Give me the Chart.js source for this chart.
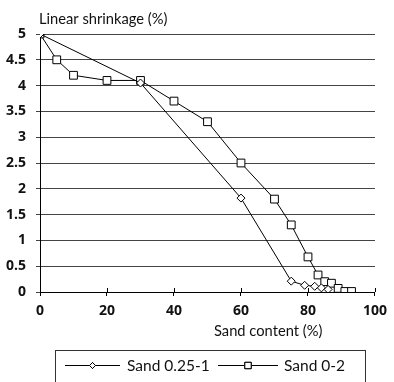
<!DOCTYPE html>
<html>
<head>
<meta charset="utf-8">
<script src="https://cdn.jsdelivr.net/npm/chart.js@4/dist/chart.umd.min.js"></script>
<style>
  html, body { margin: 0; padding: 0; background: #fff; }
  #wrap { width: 394px; height: 382px; }
</style>
</head>
<body>
<div id="wrap"><canvas id="grafico"></canvas></div>
<script>
const TEXT_FONT = "Lato, 'Noto Sans', sans-serif";
const TICK_FONT = "'Open Sans', 'Noto Sans', sans-serif";

// Sand 0.25-1
const fineX = [0, 30, 60, 75, 79, 82, 84, 86];
const fineY = [5, 4.05, 1.82, 0.21, 0.13, 0.11, 0.08, 0.05];

// Sand 0-2
const coarseX = [0, 5, 10, 20, 30, 40, 50, 60, 70, 75, 80, 83, 85, 87, 89, 91, 93];
const coarseY = [5, 4.5, 4.2, 4.1, 4.1, 3.7, 3.3, 2.5, 1.8, 1.3, 0.68, 0.33, 0.2, 0.17, 0.07, 0.01, 0.01];

const seriesLabels = ["Sand 0.25-1", "Sand 0-2"];
const xTicks = [0, 20, 40, 60, 80, 100];
const yTitle = "Linear shrinkage (%)";
const xTitle = "Sand content (%)";

function toPoints(xs, ys) {
  return xs.map((x, i) => ({ x, y: ys[i] }));
}

// titles, crossing ticks on the x axis and the boxed legend
const extras = {
  id: "extras",
  afterDraw(chart) {
    const { ctx, chartArea, scales } = chart;
    const xs = scales.x;
    const y0 = scales.y.getPixelForValue(0);

    ctx.save();
    ctx.strokeStyle = "#000";
    ctx.lineWidth = 1;
    xTicks.forEach((v) => {
      const px = Math.round(xs.getPixelForValue(v)) + 0.5;
      ctx.beginPath();
      ctx.moveTo(px, y0 - 4);
      ctx.lineTo(px, y0);
      ctx.stroke();
    });

    ctx.fillStyle = "#111";
    ctx.font = "14.7px " + TEXT_FONT;
    ctx.textAlign = "left";
    ctx.textBaseline = "alphabetic";
    ctx.fillText(yTitle, chartArea.left - 1, 24);
    ctx.fillText(xTitle, 214, 336);

    // legend box
    ctx.strokeStyle = "#333";
    ctx.strokeRect(55.5, 350.5, 310, 40);

    const cy = 365.5;
    const items = [
      { x1: 65, x2: 120, tx: 127, style: "rectRot", r: 3 },
      { x1: 218, x2: 278, tx: 284, style: "rect", r: 4.5 }
    ];
    items.forEach((it, i) => {
      ctx.strokeStyle = "#000";
      ctx.beginPath();
      ctx.moveTo(it.x1, cy);
      ctx.lineTo(it.x2, cy);
      ctx.stroke();
      Chart.helpers.drawPoint(ctx, {
        pointStyle: it.style,
        radius: it.r,
        borderWidth: 1,
        rotation: 0
      }, (it.x1 + it.x2) / 2, cy);
      ctx.fillStyle = "#fff";
      ctx.fill();
      ctx.stroke();
      ctx.fillStyle = "#111";
      ctx.textAlign = "left";
      ctx.textBaseline = "middle";
      ctx.font = "15.5px " + TEXT_FONT;
      ctx.fillText(seriesLabels[i], it.tx, cy);
    });
    ctx.restore();
  }
};

new Chart(document.getElementById("grafico"), {
  type: "scatter",
  data: {
    datasets: [
      {
        label: seriesLabels[0],
        data: toPoints(fineX, fineY),
        showLine: true,
        borderColor: "#000",
        borderWidth: 1,
        pointStyle: "rectRot",
        pointRadius: 4,
        pointBackgroundColor: "#fff",
        pointBorderColor: "#000",
        pointBorderWidth: 1
      },
      {
        label: seriesLabels[1],
        data: toPoints(coarseX, coarseY),
        showLine: true,
        borderColor: "#000",
        borderWidth: 1,
        pointStyle: "rect",
        pointRadius: 5.5,
        pointBackgroundColor: "#fff",
        pointBorderColor: "#000",
        pointBorderWidth: 1
      }
    ]
  },
  options: {
    responsive: true,
    maintainAspectRatio: false,
    animation: false,
    layout: { padding: { top: 34, right: 8, left: 0, bottom: 0 } },
    plugins: {
      legend: { display: false },
      tooltip: { enabled: false }
    },
    scales: {
      x: {
        type: "linear",
        min: 0,
        max: 100,
        afterFit: (scale) => { scale.height = 90; },
        afterBuildTicks: (scale) => { scale.ticks = xTicks.map((v) => ({ value: v })); },
        grid: { display: true, drawOnChartArea: false, drawTicks: true, tickLength: 4, color: "#000" },
        border: { display: true, color: "#000" },
        ticks: {
          padding: 7,
          color: "#111",
          maxRotation: 0,
          font: { family: TICK_FONT, size: 14, weight: "bold" }
        }
      },
      y: {
        min: 0,
        max: 5,
        afterFit: (scale) => { scale.width = 40; },
        grid: { color: "#444", drawTicks: true, tickLength: 4 },
        border: { display: true, color: "#000" },
        ticks: {
          stepSize: 0.5,
          padding: 10,
          color: "#111",
          callback: (value) => String(value),
          font: { family: TICK_FONT, size: 14, weight: "bold" }
        }
      }
    }
  },
  plugins: [extras]
});
</script>
</body>
</html>
